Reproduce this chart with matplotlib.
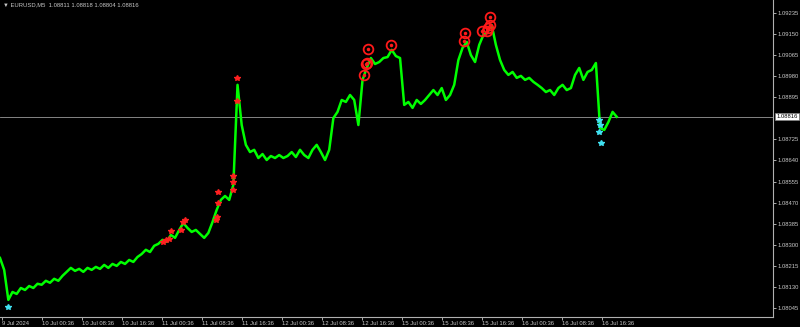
import matplotlib
matplotlib.use("Agg")
import matplotlib.pyplot as plt
import matplotlib.transforms as mtransforms
import numpy as np

plt.rcParams['font.family'] = ['Liberation Sans', 'DejaVu Sans']

bar_step = 10
closes = [
    1.08247, 1.08199, 1.08078, 1.08110, 1.08102, 1.08126, 1.08118, 1.08134, 1.08126, 1.08143,
    1.08139, 1.08155, 1.08147, 1.08163, 1.08155, 1.08175, 1.08191, 1.08207, 1.08195, 1.08203,
    1.08191, 1.08207, 1.08199, 1.08211, 1.08203, 1.08219, 1.08207, 1.08223, 1.08215, 1.08231,
    1.08223, 1.08239, 1.08231, 1.08251, 1.08263, 1.08280, 1.08271, 1.08296, 1.08304, 1.08320,
    1.08312, 1.08340, 1.08328, 1.08360, 1.08388, 1.08368, 1.08352, 1.08360, 1.08344, 1.08328,
    1.08348, 1.08392, 1.08441, 1.08481, 1.08497, 1.08481, 1.08542, 1.08945, 1.08783, 1.08703,
    1.08674, 1.08683, 1.08650, 1.08666, 1.08642, 1.08658, 1.08650, 1.08662, 1.08650, 1.08658,
    1.08674, 1.08654, 1.08683, 1.08662, 1.08650, 1.08683, 1.08703, 1.08674, 1.08642, 1.08683,
    1.08811, 1.08836, 1.08884, 1.08876, 1.08904, 1.08884, 1.08783, 1.08965, 1.09013, 1.09053,
    1.09029, 1.09037, 1.09053, 1.09057, 1.09086, 1.09061, 1.09053, 1.08864, 1.08876, 1.08852,
    1.08884, 1.08868, 1.08884, 1.08904, 1.08924, 1.08904, 1.08932, 1.08884, 1.08904, 1.08945,
    1.09045, 1.09094, 1.09118, 1.09065, 1.09037, 1.09106, 1.09146, 1.09158, 1.09186, 1.09106,
    1.09045, 1.09005, 1.08985, 1.08997, 1.08973, 1.08981, 1.08965, 1.08973, 1.08957, 1.08945,
    1.08932, 1.08916, 1.08924, 1.08904, 1.08932, 1.08945, 1.08924, 1.08932, 1.08985, 1.09013,
    1.08965, 1.08997, 1.09005, 1.09033, 1.08771, 1.08763, 1.08795, 1.08836, 1.08816,
]

# signal markers: (bar index, price)
sell_circle_bars = [874, 878, 881, 883, 938, 1114, 1116, 1157, 1169, 1171, 1176, 1176]
sell_circle_prices = [1.08985, 1.09029, 1.09033, 1.09090, 1.09106, 1.09122, 1.09154,
                      1.09162, 1.09162, 1.09174, 1.09186, 1.09219]
red_star_bars = [391, 398, 406, 410, 434, 439, 444, 518, 521, 523, 523, 559, 559, 559, 569, 569]
red_star_prices = [1.08312, 1.08320, 1.08324, 1.08356, 1.08360, 1.08392, 1.08400, 1.08400,
                   1.08413, 1.08469, 1.08513, 1.08521, 1.08554, 1.08578, 1.08880, 1.08973]
cyan_star_bars = [19, 1438, 1440, 1438, 1442]
cyan_star_prices = [1.08050, 1.08803, 1.08783, 1.08755, 1.08711]

price_ticks = [1.09235, 1.09150, 1.09065, 1.08980, 1.08895, 1.08725, 1.08640, 1.08555,
               1.08470, 1.08385, 1.08300, 1.08215, 1.08130, 1.08045]
time_labels = ["9 Jul 2024", "10 Jul 00:36", "10 Jul 08:36", "10 Jul 16:36", "11 Jul 00:36",
               "11 Jul 08:36", "11 Jul 16:36", "12 Jul 00:36", "12 Jul 08:36", "12 Jul 16:36",
               "15 Jul 00:36", "15 Jul 08:36", "15 Jul 16:36", "16 Jul 00:36", "16 Jul 08:36",
               "16 Jul 16:36"]
bid = 1.08816
header = "\u25bc EURUSD,M5  1.08811 1.08818 1.08804 1.08816"

fg = "#c8c8c8"
fs = 4.2

fig = plt.figure(figsize=(8, 3.27), dpi=100, facecolor="black")
ax = fig.add_axes([0, 10 / 327, 773 / 800, 317 / 327], facecolor="black")

bars = np.arange(len(closes)) * bar_step
ax.plot(bars, closes, color="#00ff00", lw=1.8, zorder=3)

ax.axhline(bid, color="#9a9a9a", lw=0.6, zorder=2)

ax.plot(red_star_bars, red_star_prices, ls="none", marker="*", ms=4,
        color="#ff2020", mec="#ff2020", zorder=4)
ax.plot(cyan_star_bars, cyan_star_prices, ls="none", marker="*", ms=4,
        color="#40e0f0", mec="#40e0f0", zorder=4)
ax.plot(sell_circle_bars, sell_circle_prices, ls="none", marker="o", ms=7,
        mfc="none", mec="#ff1a1a", mew=1.3, zorder=5)
ax.plot(sell_circle_bars, sell_circle_prices, ls="none", marker="o", ms=1.5,
        color="#ff1a1a", zorder=5)

ax.set_xlim(0, 1855)
ax.set_ylim(1.08009, 1.09287)

for side in ["top", "left"]:
    ax.spines[side].set_visible(False)
for side in ["right", "bottom"]:
    ax.spines[side].set_color("#b0b0b0")
    ax.spines[side].set_linewidth(0.8)

ax.yaxis.tick_right()
ax.set_yticks(price_ticks)
ax.set_yticklabels([f"{p:.5f}" for p in price_ticks])
ax.tick_params(axis="y", colors=fg, labelsize=fs, length=2, width=0.6, pad=1)

ax.set_xticks(4 + 96 * np.arange(len(time_labels)))
ax.set_xticklabels(time_labels)
ax.tick_params(axis="x", colors=fg, labelsize=fs, length=2, width=0.6, pad=1)
for lab in ax.get_xticklabels():
    lab.set_horizontalalignment("left")

# current bid box on the price scale
trans = mtransforms.blended_transform_factory(ax.transAxes, ax.transData)
ax.text(1.004, bid, f"{bid:.5f}", transform=trans, fontsize=fs, color="black",
        va="center", ha="left",
        bbox=dict(boxstyle="square,pad=0.2", fc="white", ec="#808080", lw=0.5))

fig.text(3 / 800, 1 - 5 / 327, header, color=fg, fontsize=fs, va="center", ha="left")

fig.savefig("out.png", dpi=100, facecolor="black")
